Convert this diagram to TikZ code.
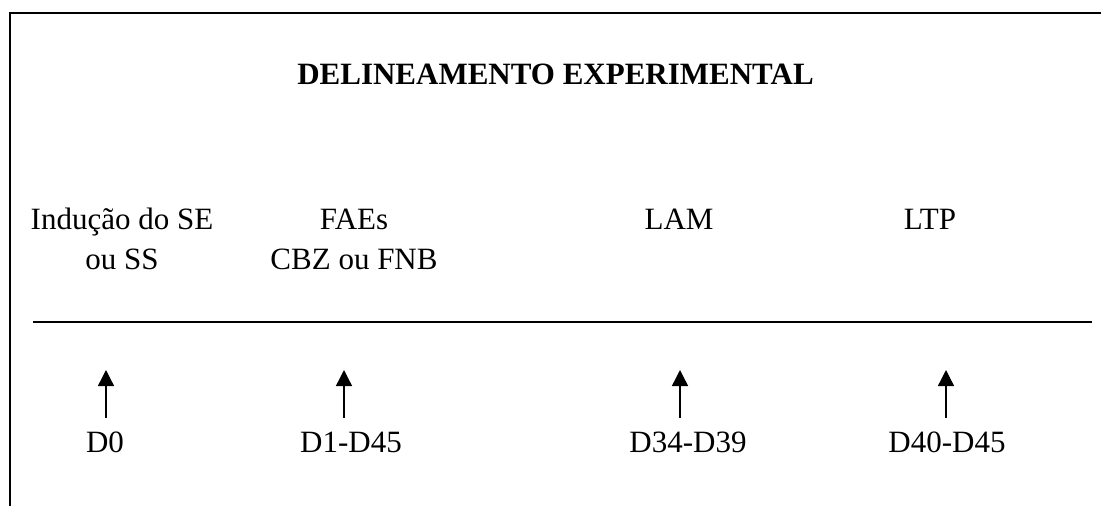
\documentclass[tikz,border=0pt]{standalone}
\usepackage{fontspec}
\setmainfont{Liberation Serif}
\usetikzlibrary{arrows.meta, positioning}

\begin{document}
\begin{tikzpicture}[x=1pt, y=-1pt,
    lbl/.style={font=\fontsize{31}{40}\selectfont, align=center, anchor=base, inner sep=0pt},
    day/.style={font=\fontsize{31}{40}\selectfont, anchor=base, inner xsep=0pt, inner ysep=13.5pt},
    arw/.style={-{Triangle[length=16pt,width=16pt]}, line width=1.4pt}]
    \useasboundingbox (0,0) rectangle (1101,506);

    % Frame
    \draw[line width=2pt] (10,506) -- (10,13) -- (1101,13);

    % Title
    \node[lbl, font=\fontsize{31}{40}\selectfont\bfseries] (title) at (555.5,84) {DELINEAMENTO EXPERIMENTAL};

    % Phases (two-line nodes sit on their last line)
    \node[lbl] (ind) at (122,269) {Indução do SE\\ou SS};
    \node[lbl] (fae) at (354,269) {FAEs\\CBZ ou FNB};
    \node[lbl] (lam) at (679,229) {LAM};
    \node[lbl] (ltp) at (930,229) {LTP};

    % Time line
    \coordinate (tlL) at (33,322);
    \coordinate (tlR) at (1092,322);
    \draw[line width=1.3pt] (tlL) -- (tlR);

    % Days
    \node[day] (d0) at (105,452) {D0};
    \node[day] (d1) at (351,452) {D1-D45};
    \node[day] (d34) at (688,452) {D34-D39};
    \node[day] (d40) at (947,452) {D40-D45};

    % Arrows
    \coordinate (a0) at (106,370);
    \coordinate (a1) at (344,370);
    \coordinate (a34) at (680,370);
    \coordinate (a40) at (946,370);
    \draw[arw] (d0.north -| a0) -- (a0);
    \draw[arw] (d1.north -| a1) -- (a1);
    \draw[arw] (d34.north -| a34) -- (a34);
    \draw[arw] (d40.north -| a40) -- (a40);
\end{tikzpicture}
\end{document}
